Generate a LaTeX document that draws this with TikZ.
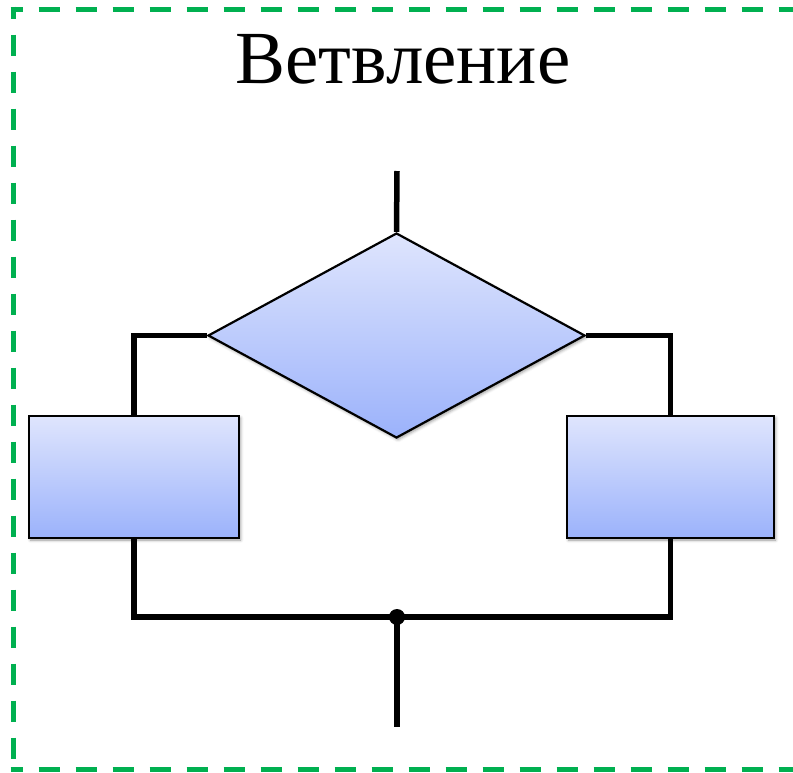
\documentclass[tikz,border=0pt]{standalone}
\usepackage{fontspec}
\setmainfont{Liberation Serif}
\usetikzlibrary{shapes.geometric,shadows.blur}

\definecolor{frameGreen}{RGB}{0,176,80}
\definecolor{fillTop}{RGB}{223,229,253}
\definecolor{fillBottom}{RGB}{155,178,251}

\tikzset{
  shapebox/.style={draw=black, line width=2.2pt, top color=fillTop, bottom color=fillBottom,
    inner sep=0pt,
    blur shadow={shadow xshift=1.5pt, shadow yshift=-2pt, shadow blur radius=3pt, shadow opacity=40}},
  conn/.style={draw=black, line width=5.5pt},
  frame/.style={draw=frameGreen, line width=5pt, dash pattern=on 21pt off 16pt, line cap=butt},
}

\begin{document}
\begin{tikzpicture}[x=1pt, y=-1pt]
  \useasboundingbox (0,0) rectangle (793,772);

  % dashed frame, open on the right
  \draw[frame, dash phase=9pt] (10.5,9) -- (800,9);
  \draw[frame, dash phase=9pt] (13,6.5) -- (13,771.5);
  \draw[frame, dash phase=9pt] (10.5,769) -- (800,769);

  % title
  \node[anchor=base, inner sep=0pt, font=\fontsize{75}{90}\selectfont] (title) at (403,83) {Ветвление};

  % flowchart shapes
  \node[shapebox, diamond, minimum width=377pt, minimum height=205pt] (dec) at (396.5,335.5) {};
  \node[shapebox, rectangle, minimum width=210pt, minimum height=122pt] (lbox) at (134,477) {};
  \node[shapebox, rectangle, minimum width=207pt, minimum height=122pt] (rbox) at (670.5,477) {};

  % connection points
  \coordinate (in) at (397,171);
  \coordinate (out) at (397,727);
  \node[circle, fill=black, inner sep=0pt, minimum size=16pt] (join) at (397,617) {};

  % connectors
  \draw[conn] (in) -- (dec.north);
  \draw[conn] (dec.west) -| (lbox.north);
  \draw[conn] (dec.east) -| (rbox.north);
  \draw[conn] (lbox.south) |- (join.center);
  \draw[conn] (rbox.south) |- (join.center);
  \draw[conn] (join.center) -- (out);
\end{tikzpicture}
\end{document}
